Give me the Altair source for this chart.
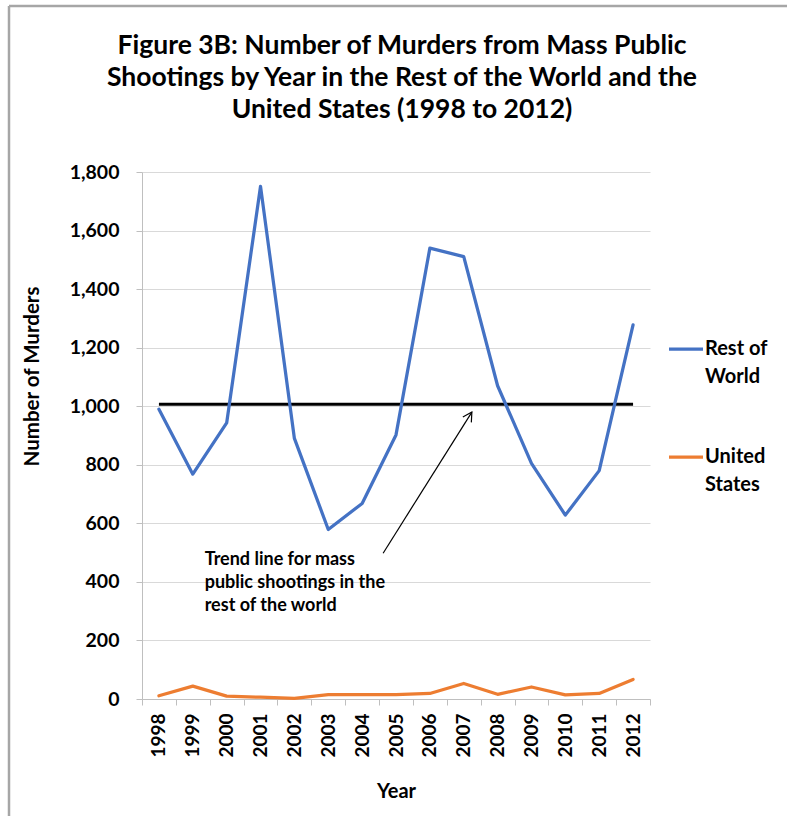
import altair as alt
import pandas as pd

# Murders from mass public shootings, 1998-2012
years = list(range(1998, 2013))
rest_of_world = [990, 768, 943, 1751, 890, 579, 668, 902, 1540, 1511, 1070, 805, 628, 780, 1278]
united_states = [11, 44, 10, 6, 2, 15, 15, 15, 19, 53, 16, 41, 14, 19, 67]
series_names = ["Rest of World", "United States"]
series_colors = ["#4472C4", "#ED7D31"]
y_ticks = [0, 200, 400, 600, 800, 1000, 1200, 1400, 1600, 1800]

# annotation text and the arrow pointing at the trend line (data coordinates)
note_lines = ["Trend line for mass", "public shootings in the", "rest of the world"]
note_anchor = (1999.35, 505)
arrow_years = [2004.62, 2007.24]
arrow_values = [498, 980]

FONT = "Lato"
GRID = "#d9d9d9"
AXIS = "#bfbfbf"

W, H = 508, 527

long_df = pd.DataFrame({
    "Year": years * 2,
    "Murders": rest_of_world + united_states,
    "Series": [series_names[0]] * len(years) + [series_names[1]] * len(years),
})
world_df = pd.DataFrame({"Year": years, "Murders": rest_of_world})

x_scale = alt.Scale(domain=[1997.5, 2012.5], nice=False, zero=False)
y_scale = alt.Scale(domain=[0, 1800], nice=False)

y_axis = alt.Axis(
    values=y_ticks, format=",d", title="Number of Murders",
    grid=True, gridColor=GRID, domainColor=AXIS, tickColor=AXIS, tickSize=6,
    labelFont=FONT, labelFontSize=19.5, labelFontWeight="bold", labelColor="black",
    labelPadding=17,
    titleFont=FONT, titleFontSize=20.5, titleFontWeight="bold", titleColor="black",
    titleX=-104, titleY=204, titleBaseline="alphabetic",
)
y_enc = alt.Y("Murders:Q", scale=y_scale, axis=y_axis)

label_axis = alt.Axis(
    values=years, format="d", labelAngle=-90, ticks=False, grid=False,
    domainColor=AXIS, labelFont=FONT, labelFontSize=19, labelFontWeight="bold",
    labelColor="black", labelPadding=14, orient="bottom",
    title="Year", titleFont=FONT, titleFontSize=20, titleFontWeight="bold",
    titleColor="black", titleY=98, titleBaseline="alphabetic",
)
tick_axis = alt.Axis(
    values=[y + 0.5 for y in [1997] + years], labels=False, domain=False,
    grid=False, ticks=True, tickSize=6, tickColor=AXIS, title=None, orient="bottom",
)

legend = alt.Legend(
    orient="none", legendX=525, legendY=158, title=None, padding=0,
    symbolType="stroke", symbolSize=1156, symbolStrokeWidth=3.25,
    labelFont=FONT, labelFontSize=20, labelFontWeight="bold", labelColor="black",
    labelLimit=0, labelOffset=0, labelBaseline="middle", rowPadding=51,
    labelExpr="datum.label == 'Rest of World' ? ['Rest of', 'World'] : ['United', 'States']",
)

lines = alt.Chart(long_df).mark_line(strokeWidth=3.25, strokeJoin="round", strokeCap="round").encode(
    x=alt.X("Year:Q", scale=x_scale, axis=label_axis),
    y=y_enc,
    color=alt.Color("Series:N", scale=alt.Scale(domain=series_names, range=series_colors), legend=legend),
)

trend = alt.Chart(world_df).transform_regression("Year", "Murders").mark_line(
    color="black", strokeWidth=3
).encode(
    x=alt.X("Year:Q", scale=x_scale, axis=tick_axis),
    y=y_enc,
)

note = alt.Chart(pd.DataFrame({"Year": [note_anchor[0]], "Murders": [note_anchor[1]], "text": [note_lines]})).mark_text(
    align="left", baseline="top", font=FONT, fontSize=18, fontWeight="bold", lineHeight=23, color="black"
).encode(
    x=alt.X("Year:Q", scale=x_scale, axis=None),
    y=y_enc,
    text="text:N",
)

arrow_df = pd.DataFrame({"Year": arrow_years, "Murders": arrow_values})
shaft = alt.Chart(arrow_df).mark_line(color="black", strokeWidth=1.2).encode(
    x=alt.X("Year:Q", scale=x_scale, axis=None),
    y=y_enc,
)
head = alt.Chart(arrow_df.tail(1)).mark_point(
    shape="M -0.5 0.9 L 0 0 L 0.5 0.9", filled=False, size=400, angle=32,
    color="black", strokeWidth=1.2, opacity=1,
).encode(
    x=alt.X("Year:Q", scale=x_scale, axis=None),
    y=y_enc,
)

# chart-area frame (top and left edges)
frame_src = pd.DataFrame({"k": [0]})
frame_left = alt.Chart(frame_src).mark_rule(color="#a6a6a6", strokeWidth=2.5).encode(
    x=alt.value(-133), y=alt.value(-166), y2=alt.value(816 - 172)
)
frame_top = alt.Chart(frame_src).mark_rule(color="#a6a6a6", strokeWidth=2.5).encode(
    x=alt.value(-133), x2=alt.value(787 - 142), y=alt.value(-166)
)

chart = alt.layer(frame_left, frame_top, trend, lines, shaft, head, note).resolve_axis(
    x="independent"
).resolve_scale(x="shared").properties(
    width=W, height=H,
    title=alt.Title(
        text=[
            "Figure 3B: Number of Murders from Mass Public",
            "Shootings by Year in the Rest of the World and the",
            "United States (1998 to 2012)",
        ],
        font=FONT, fontSize=26.5, fontWeight="bold", color="black",
        lineHeight=32, anchor="middle", frame="group", dx=6, offset=-119,
    ),
    autosize=alt.AutoSizeParams(type="none"),
    padding={"left": 142, "top": 172, "right": 137, "bottom": 117},
).configure(
    view=alt.ViewConfig(stroke=None),
    style={"guide-label": {"lineHeight": 28}},
)

chart.save("out.html", embed_options={"renderer": "svg", "actions": False})
